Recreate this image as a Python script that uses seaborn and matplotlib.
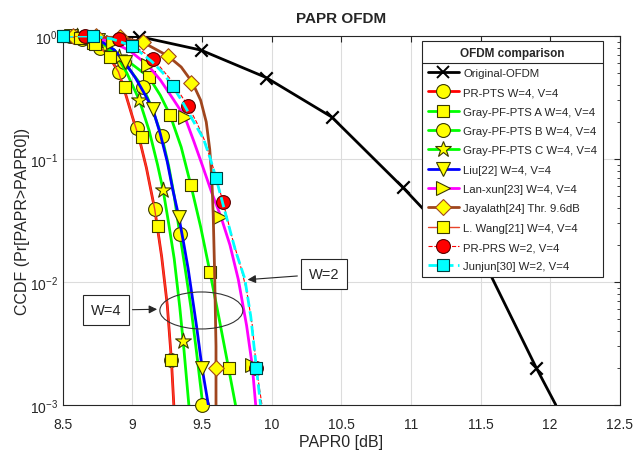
import matplotlib
matplotlib.use("Agg")
import matplotlib.pyplot as plt
import seaborn as sns
from matplotlib.lines import Line2D
from matplotlib.patches import Ellipse
from matplotlib.ticker import MultipleLocator, FormatStrFormatter

# ---- data (PAPR0 in dB, CCDF) ----
orig_x = [8.5, 9.05, 9.49, 9.96, 10.43, 10.94, 11.09, 11.55, 11.9, 12.04]
orig_y = [1.0, 0.99, 0.77, 0.46, 0.22, 0.059, 0.039, 0.0128, 0.002, 0.001]
orig_mx = [9.05, 9.49, 9.96, 10.43, 10.94, 11.9]
orig_my = [0.99, 0.77, 0.46, 0.22, 0.059, 0.002]

prpts_x = [8.5, 8.6, 8.7, 8.78, 8.84, 8.9, 8.95, 9.0, 9.05, 9.1, 9.16, 9.21, 9.25, 9.28, 9.297]
prpts_y = [1.0, 0.97, 0.9, 0.78, 0.66, 0.51, 0.34, 0.22, 0.145, 0.085, 0.039, 0.016, 0.0065, 0.0023, 0.001]
prpts_mx = [8.55, 8.64, 8.77, 8.9, 9.03, 9.16, 9.28]
prpts_my = [1.0, 0.95, 0.8, 0.51, 0.18, 0.039, 0.0023]

grayA_x = [8.5, 8.6, 8.715, 8.85, 8.98, 9.118, 9.2, 9.27, 9.35, 9.42, 9.49, 9.556, 9.62, 9.69, 9.74]
grayA_y = [1.0, 0.96, 0.877, 0.75, 0.61, 0.464, 0.33, 0.228, 0.125, 0.061, 0.028, 0.0121, 0.0052, 0.002, 0.001]
grayA_mx = [8.51, 8.715, 9.118, 9.27, 9.42, 9.556, 9.69]
grayA_my = [1.0, 0.877, 0.464, 0.228, 0.061, 0.0121, 0.002]

grayB_x = [8.5, 8.65, 8.78, 8.87, 8.94, 9.01, 9.075, 9.14, 9.21, 9.26, 9.3, 9.34, 9.38, 9.42, 9.46, 9.505]
grayB_y = [1.0, 0.98, 0.9, 0.77, 0.62, 0.48, 0.385, 0.26, 0.154, 0.088, 0.05, 0.0245, 0.0125, 0.0062, 0.0027, 0.001]
grayB_mx = [8.65, 8.8, 8.94, 9.075, 9.21, 9.34, 9.5]
grayB_my = [0.98, 0.88, 0.62, 0.385, 0.154, 0.0245, 0.001]

grayC_x = [8.5, 8.65, 8.78, 8.88, 8.96, 9.05, 9.12, 9.18, 9.22, 9.26, 9.30, 9.34, 9.37, 9.405]
grayC_y = [1.0, 0.97, 0.88, 0.72, 0.5, 0.30, 0.17, 0.09, 0.056, 0.03, 0.0154, 0.0062, 0.0028, 0.001]
grayC_mx = [8.6, 8.75, 8.9, 9.05, 9.22, 9.36]
grayC_my = [1.0, 0.92, 0.67, 0.30, 0.056, 0.0033]

liu_x = [8.5, 8.65, 8.78, 8.87, 8.945, 9.02, 9.08, 9.146, 9.2, 9.25, 9.29, 9.333, 9.37, 9.40, 9.46, 9.5, 9.545]
liu_y = [1.0, 0.98, 0.9, 0.77, 0.61, 0.46, 0.35, 0.255, 0.16, 0.095, 0.056, 0.034, 0.02, 0.0128, 0.0044, 0.002, 0.001]
liu_mx = [8.56, 8.75, 8.945, 9.146, 9.333, 9.5]
liu_my = [1.0, 0.93, 0.61, 0.255, 0.034, 0.002]

lan_x = [8.5, 8.7, 8.85, 8.98, 9.11, 9.2, 9.29, 9.376, 9.44, 9.5, 9.57, 9.635, 9.7, 9.76, 9.82, 9.86, 9.885]
lan_y = [1.0, 0.98, 0.9, 0.76, 0.58, 0.44, 0.31, 0.22, 0.14, 0.09, 0.053, 0.034, 0.02, 0.0105, 0.0044, 0.0021, 0.001]
lan_mx = [8.61, 8.86, 9.11, 9.376, 9.63, 9.86]
lan_my = [1.0, 0.89, 0.58, 0.22, 0.034, 0.0021]

jay_x = [8.5, 8.6, 8.74, 8.91, 9.075, 9.254, 9.35, 9.43, 9.49, 9.53, 9.555, 9.57, 9.58, 9.59, 9.6, 9.6]
jay_y = [1.0, 1.0, 1.0, 0.98, 0.89, 0.69, 0.56, 0.42, 0.3, 0.2, 0.12, 0.07, 0.035, 0.012, 0.003, 0.001]
jay_mx = [8.57, 8.74, 8.91, 9.075, 9.254, 9.419, 9.6]
jay_my = [1.0, 1.0, 0.98, 0.89, 0.69, 0.415, 0.002]

wang_x = [8.5, 8.6, 8.7, 8.78, 8.84, 8.9, 8.95, 9.0, 9.05, 9.1, 9.16, 9.21, 9.25, 9.28, 9.297]
wang_y = [1.0, 0.97, 0.9, 0.78, 0.66, 0.51, 0.34, 0.22, 0.145, 0.085, 0.039, 0.016, 0.0065, 0.0023, 0.001]
wang_mx = [8.62, 8.73, 8.84, 8.95, 9.07, 9.18, 9.28]
wang_my = [0.97, 0.86, 0.675, 0.385, 0.151, 0.0286, 0.0023]

prprs_x = [8.5, 8.66, 8.9, 9.02, 9.15, 9.27, 9.4, 9.46, 9.52, 9.58, 9.65, 9.72, 9.78, 9.82, 9.86, 9.89, 9.93]
prprs_y = [1.0, 1.0, 0.95, 0.82, 0.65, 0.45, 0.27, 0.2, 0.14, 0.085, 0.045, 0.022, 0.013, 0.0085, 0.0045, 0.002, 0.001]
prprs_mx = [8.66, 8.9, 9.15, 9.4, 9.65, 9.89]
prprs_my = [1.0, 0.95, 0.65, 0.27, 0.045, 0.002]

jun_x = [8.5, 8.7, 8.85, 9.0, 9.14, 9.22, 9.29, 9.36, 9.43, 9.51, 9.56, 9.6, 9.66, 9.74, 9.807, 9.85, 9.89, 9.92]
jun_y = [1.0, 1.0, 0.95, 0.83, 0.62, 0.5, 0.39, 0.29, 0.21, 0.146, 0.1, 0.07, 0.039, 0.018, 0.0106, 0.0052, 0.002, 0.001]
jun_mx = [8.5, 8.715, 9.0, 9.29, 9.6, 9.89]
jun_my = [1.0, 1.0, 0.83, 0.39, 0.07, 0.002]

labels = ["Original-OFDM", "PR-PTS W=4, V=4", "Gray-PF-PTS A W=4, V=4",
          "Gray-PF-PTS B W=4, V=4", "Gray-PF-PTS C W=4, V=4", "Liu[22] W=4, V=4",
          "Lan-xun[23] W=4, V=4", "Jayalath[24] Thr. 9.6dB", "L. Wang[21] W=4, V=4",
          "PR-PRS W=2, V=4", "Junjun[30] W=2, V=4"]

# (x, y, mx, my, line color, lw, ls, marker, marker size, face, edge)
series = [
    (orig_x, orig_y, orig_mx, orig_my, "black", 2.0, "-", "x", 9, "black", "black"),
    (prpts_x, prpts_y, prpts_mx, prpts_my, "#FF0000", 2.0, "-", "o", 10, "#FFFF00", "#3a3a00"),
    (grayA_x, grayA_y, grayA_mx, grayA_my, "#00FF00", 2.0, "-", "s", 8, "#FFFF00", "#3a3a00"),
    (grayB_x, grayB_y, grayB_mx, grayB_my, "#00FF00", 2.0, "-", "o", 10, "#FFFF00", "#3a3a00"),
    (grayC_x, grayC_y, grayC_mx, grayC_my, "#00FF00", 2.0, "-", "*", 12, "#FFFF00", "#3a3a00"),
    (liu_x, liu_y, liu_mx, liu_my, "#0000FF", 2.0, "-", "v", 10, "#FFFF00", "#3a3a00"),
    (lan_x, lan_y, lan_mx, lan_my, "#FF00FF", 2.0, "-", ">", 10, "#FFFF00", "#3a3a00"),
    (jay_x, jay_y, jay_mx, jay_my, "#A0461E", 2.0, "-", "D", 8, "#FFFF00", "#A0461E"),
    (wang_x, wang_y, wang_mx, wang_my, "#E8452A", 1.0, "-", "s", 8, "#FFFF00", "#3a3a00"),
    (prprs_x, prprs_y, prprs_mx, prprs_my, "#FF0000", 0.8, "--", "o", 10, "#FF0000", "#5a0000"),
    (jun_x, jun_y, jun_mx, jun_my, "#00FFFF", 2.0, "--", "s", 8, "#00FFFF", "#004040"),
]

sns.set_style("white")
plt.rcParams["font.family"] = ["Liberation Sans", "DejaVu Sans"]

fig = plt.figure(figsize=(6.41, 4.52), dpi=100)
ax = fig.add_axes([0.098, 0.102, 0.869, 0.816])

handles = []
for i, (x, y, mx, my, c, lw, ls, m, ms, fc, ec) in enumerate(series):
    z = 3 + i
    sns.lineplot(x=x, y=y, ax=ax, color=c, lw=lw, linestyle=ls, sort=False,
                 estimator=None, zorder=z)
    s = (ms * 0.72) ** 2 * 1.9
    if m == "x":
        sns.scatterplot(x=mx, y=my, ax=ax, marker="x", s=s, color="black",
                        linewidth=1.6, zorder=z + 0.5, clip_on=False)
    else:
        sns.scatterplot(x=mx, y=my, ax=ax, marker=m, s=s, color=fc, edgecolor=ec,
                        linewidth=0.8, zorder=z + 0.5, clip_on=False)
    handles.append(Line2D([], [], color=c, lw=lw, ls=ls, marker=m, markersize=ms,
                          markerfacecolor=fc, markeredgecolor=ec,
                          markeredgewidth=1.4 if m == "x" else 0.8))

ax.set_yscale("log")
ax.set_xlim(8.5, 12.5)
ax.set_ylim(1e-3, 1)
ax.xaxis.set_major_locator(MultipleLocator(0.5))
ax.xaxis.set_major_formatter(FormatStrFormatter("%g"))
ax.tick_params(which="both", direction="in", top=True, right=True,
               labelsize=10, colors="#262626")
ax.tick_params(axis="x", which="major", pad=9)
ax.tick_params(which="major", length=4)
ax.tick_params(which="minor", length=2)
ax.grid(True, which="major", color="#DCDCDC", lw=0.8)
ax.set_axisbelow(True)
for sp in ax.spines.values():
    sp.set_color("#262626")
    sp.set_linewidth(0.8)

ax.set_title("PAPR OFDM", fontsize=11, fontweight="bold", pad=10)
ax.set_xlabel("PAPR0 [dB]", fontsize=11.5, labelpad=2)
ax.set_ylabel("CCDF (Pr[PAPR>PAPR0])", fontsize=11.5, labelpad=0)

# annotations
box = dict(boxstyle="square,pad=0.55", fc="white", ec="#262626", lw=0.8)
arrow = dict(arrowstyle="-|>", color="#262626", lw=0.8, mutation_scale=12)
ax.annotate("W=2", xy=(9.807, 0.0104), xytext=(10.374, 0.0116), ha="center",
            va="center", fontsize=10.5, bbox=box, arrowprops=arrow, zorder=30)
ax.annotate("W=4", xy=(9.197, 0.006), xytext=(8.81, 0.0059), ha="center",
            va="center", fontsize=10.5, bbox=box, arrowprops=arrow, zorder=30)
ax.add_patch(Ellipse((0.2487, 0.256), 0.149, 0.1003, transform=ax.transAxes,
                     fill=False, ec="#333333", lw=0.8, zorder=30))

leg = ax.legend(handles, labels, title="OFDM comparison", loc="upper right",
                bbox_to_anchor=(0.9695, 0.9865), fontsize=8.2,
                title_fontproperties={"weight": "bold", "size": 8.5},
                frameon=True, fancybox=False, edgecolor="#262626", framealpha=1,
                handlelength=2.7, labelspacing=0.82, borderpad=0.5,
                handletextpad=0.4, borderaxespad=0)
leg.get_frame().set_linewidth(0.8)
leg.set_zorder(40)

# separator line under the legend title
fig.canvas.draw()
fb = leg.get_frame().get_window_extent()
tb = leg.get_title().get_window_extent()
inv = fig.transFigure.inverted()
(x0, y0) = inv.transform((fb.x0, tb.y0 - 4))
(x1, _) = inv.transform((fb.x1, tb.y0 - 4))
fig.add_artist(Line2D([x0, x1], [y0, y0], color="#262626", lw=0.8, zorder=50))

fig.savefig("out.png", dpi=100)
